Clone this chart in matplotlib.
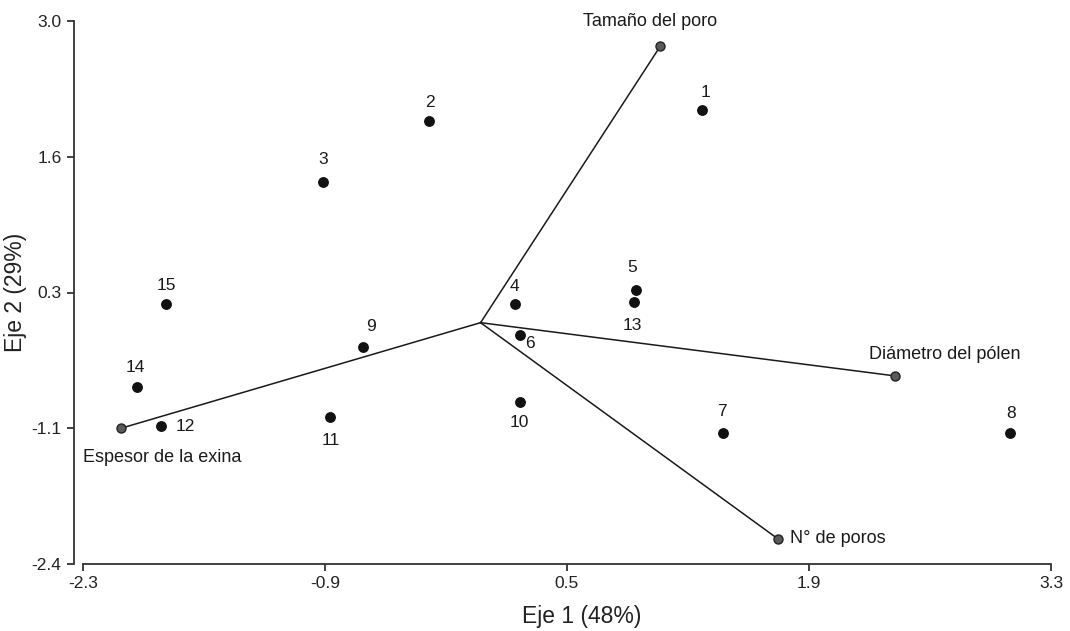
import matplotlib
matplotlib.use("Agg")
import matplotlib.pyplot as plt

plt.rcParams['font.family'] = ['Liberation Sans', 'DejaVu Sans']

# sample scores (Eje 1, Eje 2)
ids = ['1', '2', '3', '4', '5', '6', '7', '8', '9', '10', '11', '12', '13', '14', '15']
eje1 = [1.28, -0.30, -0.91, 0.20, 0.90, 0.23, 1.40, 3.06, -0.68, 0.23, -0.87, -1.85, 0.89, -1.99, -1.82]
eje2 = [2.11, 2.01, 1.40, 0.19, 0.32, -0.12, -1.10, -1.10, -0.24, -0.79, -0.94, -1.03, 0.21, -0.64, 0.19]
# label offset (pixels) for each sample id
lab_dx = [4, 1, 0, -1, -4, 10, -1, 2, 8, -1, 1, 25, -2, -1, 0]
lab_dy = [18, 18, 22, 17, 23, -9, 22, 20, 20, -20, -23, 0, -24, 20, 18]

# variable vectors
variables = ['Tamaño del poro', 'Diámetro del pólen', 'N° de poros', 'Espesor de la exina']
vec1 = [1.04, 2.40, 1.72, -2.08]
vec2 = [2.75, -0.53, -2.15, -1.05]

xticks = [-2.3, -0.9, 0.5, 1.9, 3.3]
xtick_labels = ['-2.3', '-0.9', '0.5', '1.9', '3.3']
yticks = [-2.4, -1.05, 0.3, 1.65, 3.0]
ytick_labels = ['-2.4', '-1.1', '0.3', '1.6', '3.0']

fig = plt.figure(figsize=(10.70, 6.31), dpi=100)
ax = fig.add_axes([74 / 1070, 67 / 631, (1055 - 74) / 1070, 543 / 631])

pxu = 172.86  # pixels per x unit
ax.set_xlim(-2.3 - 9 / pxu, 3.3 + 4 / pxu)
ax.set_ylim(-2.4, 3.0)

# vectors from origin
for name, vx, vy in zip(variables, vec1, vec2):
    ax.plot([0, vx], [0, vy], color='#1a1a1a', lw=1.1, zorder=2, clip_on=False)
    ax.plot(vx, vy, 'o', ms=6.5, mfc='#5a5a5a', mec='#222222', mew=1.0, zorder=3, clip_on=False)

var_off = {
    'Tamaño del poro': ((-10, 25), 'center'),
    'Diámetro del pólen': ((-26, 21), 'left'),
    'N° de poros': ((12, 0), 'left'),
    'Espesor de la exina': ((-38, -29), 'left'),
}
for name, vx, vy in zip(variables, vec1, vec2):
    (dx, dy), ha = var_off[name]
    ax.annotate(name, (vx, vy), xytext=(dx, dy), textcoords='offset pixels',
                ha=ha, va='center', fontsize=13, color='#1a1a1a')

# sample points
ax.plot(eje1, eje2, 'o', ms=6.8, color='#111111', zorder=4, clip_on=False)
for lab, x, y, dx, dy in zip(ids, eje1, eje2, lab_dx, lab_dy):
    ax.annotate(lab, (x, y), xytext=(dx, dy), textcoords='offset pixels',
                ha='center', va='center', fontsize=12.5, color='#1a1a1a')

for s in ['top', 'right']:
    ax.spines[s].set_visible(False)
for s in ['left', 'bottom']:
    ax.spines[s].set_color('#333333')
    ax.spines[s].set_linewidth(1.3)
ax.spines['bottom'].set_bounds(-2.3, 3.3)
ax.spines['left'].set_bounds(-2.4, 3.0)

ax.set_xticks(xticks)
ax.set_xticklabels(xtick_labels)
ax.set_yticks(yticks)
ax.set_yticklabels(ytick_labels)
ax.tick_params(direction='out', length=5, width=1.3, color='#333333',
               labelsize=12.5, labelcolor='#222222', pad=4)

ax.set_xlabel('Eje 1 (48%)', fontsize=16.5, color='#222222', va='center')
ax.set_ylabel('Eje 2 (29%)', fontsize=16.5, color='#222222', va='center')
ax.xaxis.set_label_coords(0.518, -(616 - 564) / 543)
ax.yaxis.set_label_coords(-(74 - 16) / 981, 0.5)

fig.savefig('out.png', dpi=100)
